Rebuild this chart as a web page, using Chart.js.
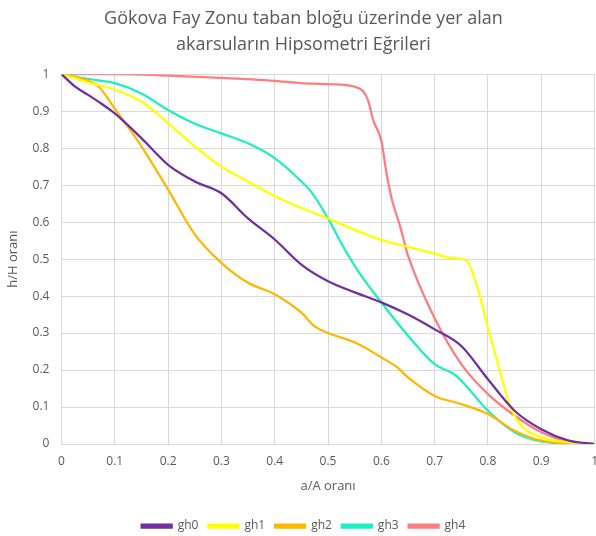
<!DOCTYPE html>
<html>
<head>
<meta charset="utf-8">
<script src="https://cdn.jsdelivr.net/npm/chart.js@4"></script>
<style>
  html, body { margin: 0; padding: 0; background: #fff; overflow: hidden; }
  #wrap { width: 608px; height: 536px; }
</style>
</head>
<body>
<div id="wrap"><canvas id="hipso"></canvas></div>
<script>
// a/A oranı noktaları ve h/H oranı değerleri
var names = ["gh0", "gh1", "gh2", "gh3", "gh4"];
var colors = ["#7030A0", "#FFFF00", "#FFB800", "#1DEFC4", "#FF7C80"];

var gh0x = [0, 0.025, 0.05, 0.075, 0.1, 0.15, 0.2, 0.25, 0.3, 0.35, 0.4, 0.45, 0.5, 0.55, 0.6, 0.65, 0.7, 0.75, 0.8, 0.85, 0.9, 0.95, 1];
var gh0y = [1, 0.967, 0.944, 0.92, 0.894, 0.827, 0.755, 0.71, 0.678, 0.61, 0.553, 0.485, 0.44, 0.41, 0.383, 0.35, 0.31, 0.265, 0.175, 0.09, 0.04, 0.01, 0];

var gh1x = [0, 0.05, 0.1, 0.15, 0.2, 0.25, 0.3, 0.35, 0.4, 0.45, 0.5, 0.55, 0.6, 0.65, 0.7, 0.73, 0.76, 0.78, 0.8, 0.82, 0.84, 0.86, 0.9, 0.95, 1];
var gh1y = [1, 0.978, 0.958, 0.926, 0.868, 0.805, 0.75, 0.71, 0.67, 0.638, 0.61, 0.579, 0.552, 0.533, 0.515, 0.503, 0.495, 0.425, 0.315, 0.21, 0.11, 0.054, 0.018, 0.005, 0];

var gh2x = [0, 0.05, 0.07, 0.1, 0.15, 0.2, 0.25, 0.3, 0.35, 0.4, 0.45, 0.475, 0.5, 0.55, 0.6, 0.63, 0.65, 0.7, 0.75, 0.8, 0.85, 0.9, 0.95, 1];
var gh2y = [1, 0.982, 0.966, 0.907, 0.805, 0.688, 0.567, 0.49, 0.436, 0.405, 0.355, 0.318, 0.3, 0.275, 0.234, 0.207, 0.18, 0.13, 0.108, 0.081, 0.036, 0.009, 0.002, 0];

var gh3x = [0, 0.05, 0.1, 0.15, 0.2, 0.25, 0.3, 0.35, 0.4, 0.45, 0.47, 0.5, 0.53, 0.56, 0.6, 0.65, 0.7, 0.74, 0.8, 0.85, 0.9, 0.95, 1];
var gh3y = [1, 0.987, 0.976, 0.948, 0.903, 0.866, 0.84, 0.813, 0.773, 0.71, 0.679, 0.61, 0.53, 0.46, 0.383, 0.293, 0.216, 0.185, 0.09, 0.032, 0.007, 0.001, 0];

var gh4x = [0, 0.1, 0.2, 0.3, 0.4, 0.45, 0.5, 0.55, 0.565, 0.575, 0.585, 0.6, 0.61, 0.62, 0.635, 0.65, 0.7, 0.75, 0.8, 0.85, 0.9, 0.95, 1];
var gh4y = [1, 1, 0.996, 0.99, 0.982, 0.976, 0.973, 0.966, 0.955, 0.93, 0.875, 0.82, 0.73, 0.66, 0.59, 0.51, 0.34, 0.216, 0.135, 0.077, 0.032, 0.007, 0];

var xs = [gh0x, gh1x, gh2x, gh3x, gh4x];
var ys = [gh0y, gh1y, gh2y, gh3y, gh4y];

var datasets = [];
for (var i = 0; i < names.length; i++) {
    var pts = [];
    for (var j = 0; j < xs[i].length; j++) pts.push({ x: xs[i][j], y: ys[i][j] });
    datasets.push({
        label: names[i],
        data: pts,
        borderColor: colors[i],
        backgroundColor: colors[i],
        borderWidth: 2.25,
        pointRadius: 0,
        showLine: true,
        cubicInterpolationMode: "monotone"
    });
}

var grey = "#595959";
var fnt = "'Open Sans', 'Liberation Sans', sans-serif";

new Chart(document.getElementById("hipso"), {
    type: "scatter",
    data: { datasets: datasets },
    options: {
        responsive: true,
        maintainAspectRatio: false,
        animation: false,
        layout: { padding: { left: -1, right: 0, top: 4, bottom: -6 } },
        plugins: {
            title: {
                display: true,
                text: ["Gökova Fay Zonu taban bloğu üzerinde yer alan", "akarsuların Hipsometri Eğrileri"],
                color: grey,
                font: { family: fnt, size: 18, weight: "normal", lineHeight: 1.45 },
                padding: { top: 2, bottom: 16 }
            },
            legend: {
                position: "bottom",
                labels: {
                    color: grey,
                    font: { family: fnt, size: 12 },
                    boxWidth: 30,
                    boxHeight: 3,
                    padding: 10
                }
            },
            tooltip: { enabled: false }
        },
        scales: {
            x: {
                type: "linear",
                min: 0,
                max: 1,
                ticks: {
                    stepSize: 0.1,
                    color: grey,
                    font: { family: fnt, size: 12 },
                    padding: 10,
                    callback: function (v) { return +v.toFixed(1); }
                },
                grid: { color: "#d9d9d9", lineWidth: 1, drawTicks: false },
                border: { color: "#d9d9d9" },
                title: { display: true, text: "a/A oranı", color: grey, font: { family: fnt, size: 13 }, padding: { top: 0, bottom: 16 } }
            },
            y: {
                type: "linear",
                min: 0,
                max: 1,
                ticks: {
                    stepSize: 0.1,
                    color: grey,
                    font: { family: fnt, size: 12 },
                    padding: 12,
                    callback: function (v) { return +v.toFixed(1); }
                },
                grid: { color: "#d9d9d9", lineWidth: 1, drawTicks: false },
                border: { color: "#d9d9d9" },
                title: { display: true, text: "h/H oranı", color: grey, font: { family: fnt, size: 13 }, padding: { top: 6, bottom: 0 } }
            }
        }
    }
});
</script>
</body>
</html>
